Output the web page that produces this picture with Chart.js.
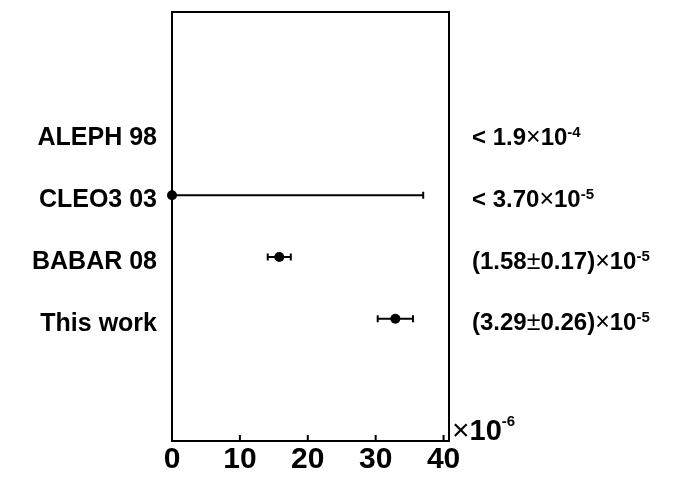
<!DOCTYPE html>
<html>
<head>
<meta charset="utf-8">
<script src="https://cdn.jsdelivr.net/npm/chart.js@4/dist/chart.umd.min.js"></script>
<style>
  html,body{margin:0;padding:0;background:#fff}
  #wrap{width:674px;height:478px}
</style>
</head>
<body>
<div id="wrap"><canvas id="c" width="674" height="478"></canvas></div>
<script>
// measurements, top to bottom
const experiments = ['ALEPH 98', 'CLEO3 03', 'BABAR 08', 'This work'];
const rowPos = [4, 3, 2, 1];
const centralVals = [null, 0, 15.8, 32.9];   // x10^-6
const errLow = [null, 0, 1.7, 2.6];
const errHigh = [null, 37.0, 1.7, 2.6];
const xTicks = [0, 10, 20, 30, 40];

// right-hand result text, pieces: [text, bold, superscript]
const resultTexts = [
  [['< 1.9', 1, 0], ['\u00d7', 0, 0], ['10', 1, 0], ['-4', 1, 1]],
  [['< 3.70', 1, 0], ['\u00d7', 0, 0], ['10', 1, 0], ['-5', 1, 1]],
  [['(1.58', 1, 0], ['\u00b1', 0, 0], ['0.17)', 1, 0], ['\u00d7', 0, 0], ['10', 1, 0], ['-5', 1, 1]],
  [['(3.29', 1, 0], ['\u00b1', 0, 0], ['0.26)', 1, 0], ['\u00d7', 0, 0], ['10', 1, 0], ['-5', 1, 1]]
];
const axisExponent = [['\u00d7', 0, 0], ['10', 1, 0], ['-6', 1, 1]];

const FONT = "'Liberation Sans', Arial, sans-serif";

function drawPieces(ctx, pieces, x, y, size, supSize, supRaise, symSize){
  ctx.textBaseline = 'alphabetic';
  ctx.textAlign = 'left';
  for(const [t, b, sup] of pieces){
    const fs = sup ? supSize : (b ? size : symSize);
    ctx.font = `${b ? 'bold ' : ''}${fs}px ${FONT}`;
    ctx.fillText(t, x, sup ? y - supRaise : y);
    x += ctx.measureText(t).width;
  }
}

const points = [];
centralVals.forEach((v, i) => { if(v !== null) points.push({x: v, y: rowPos[i], i}); });

function noPad(s){ s.paddingTop = 0; s.paddingBottom = 0; s.paddingLeft = 0; s.paddingRight = 0; }

const decorPlugin = {
  id: 'decor',
  beforeDatasetsDraw(chart){
    const {ctx, scales:{x, y}} = chart;
    ctx.save();
    ctx.strokeStyle = '#000';
    ctx.lineWidth = 2;
    centralVals.forEach((v, i) => {
      if(v === null) return;
      const py = y.getPixelForValue(rowPos[i]);
      const x1 = x.getPixelForValue(v - errLow[i]);
      const x2 = x.getPixelForValue(v + errHigh[i]);
      ctx.beginPath();
      ctx.moveTo(x1, py); ctx.lineTo(x2, py);
      ctx.moveTo(x1, py - 3.5); ctx.lineTo(x1, py + 3.5);
      ctx.moveTo(x2, py - 3.5); ctx.lineTo(x2, py + 3.5);
      ctx.stroke();
    });
    ctx.restore();
  },
  afterDraw(chart){
    const {ctx, chartArea:a, scales:{x, y}} = chart;
    ctx.save();
    ctx.strokeStyle = '#000';
    ctx.lineWidth = 2;
    ctx.strokeRect(a.left, a.top, a.right - a.left, a.bottom - a.top);
    // inward ticks
    ctx.beginPath();
    for(const t of xTicks){
      const px = x.getPixelForValue(t);
      ctx.moveTo(px, a.bottom); ctx.lineTo(px, a.bottom - 6);
    }
    ctx.stroke();
    ctx.fillStyle = '#000';
    // result texts on the right
    resultTexts.forEach((pieces, i) => {
      const py = y.getPixelForValue(rowPos[i]);
      drawPieces(ctx, pieces, a.right + 23, py + 11.5, 24, 15, 8, 25);
    });
    // axis multiplier
    drawPieces(ctx, axisExponent, a.right + 3, a.bottom - 1, 29, 15, 14, 30);
    ctx.restore();
  }
};

new Chart(document.getElementById('c'), {
  type: 'scatter',
  data: {
    datasets: [{
      data: points,
      pointRadius: 5,
      pointBackgroundColor: '#000',
      pointBorderColor: '#000',
      pointBorderWidth: 0,
      clip: false
    }]
  },
  options: {
    responsive: false,
    animation: false,
    layout: {padding: {left: 0, right: 225, top: 12, bottom: 0}},
    plugins: {legend: {display: false}, tooltip: {enabled: false}},
    scales: {
      x: {
        type: 'linear', min: 0, max: 40.8,
        afterBuildTicks: s => { s.ticks = xTicks.map(v => ({value: v})); },
        afterFit: s => { s.height = 37; noPad(s); },
        grid: {display: false, drawTicks: false},
        border: {display: false},
        ticks: {color: '#000', font: {family: FONT, size: 30, weight: 'bold'}, padding: 1, maxRotation: 0, autoSkip: false}
      },
      y: {
        type: 'linear', min: -0.98, max: 5.97,
        afterBuildTicks: s => { s.ticks = rowPos.map(v => ({value: v})); },
        afterFit: s => { s.width = 172; noPad(s); },
        grid: {display: false, drawTicks: false},
        border: {display: false},
        ticks: {
          color: '#000', font: {family: FONT, size: 25, weight: 'bold'}, padding: 15, labelOffset: 5,
          callback: v => experiments[rowPos.indexOf(v)]
        }
      }
    }
  },
  plugins: [decorPlugin]
});
</script>
</body>
</html>
